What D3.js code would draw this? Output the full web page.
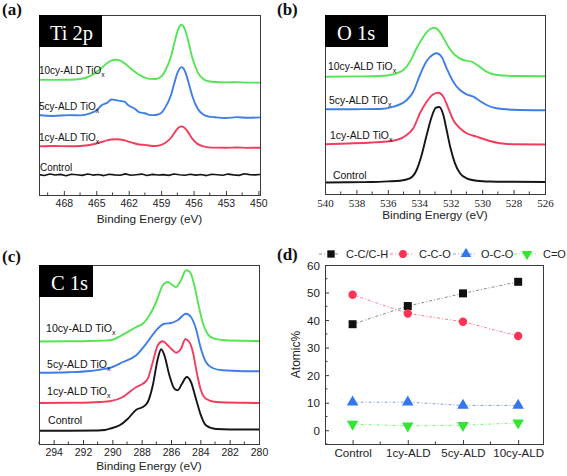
<!DOCTYPE html>
<html><head><meta charset="utf-8">
<script src="https://cdn.jsdelivr.net/npm/d3@7"></script>
<style>body{margin:0;background:#fff}svg{display:block}</style>
</head><body><svg id="c" width="567" height="476"></svg>
<script>
// ---------------- DATA ----------------
// (a) Ti 2p  – binding energy (eV) and intensity (a.u., offset per trace)
const tiE = [470.3,469,467.5,466.5,465.5,465,464.5,464,463.6,463.2,462.8,462.4,462,461.5,461,460.5,460,459.5,459,458.6,458.1,457.8,457.5,457.3,457.1,456.9,456.7,456.4,456.1,455.6,455.1,454.6,454,453,452,451,449.85];
const ti10 = [114.5,114.5,114.6,115.3,118.7,122.2,126.6,131,133.6,134.5,133.6,131,127.6,123,119.3,116.8,115.5,115.4,117.7,124.1,137.2,150.1,162.3,167.5,169.3,167,161.6,149.1,135.9,121.7,115.4,113.1,112.3,112,112.2,111.8,111.8];
const ti5  = [79.5,78.6,79.4,79.2,81.5,84,89.3,91.6,95,94.4,93.6,92.8,88.9,86.3,82.2,81.3,79.4,79.6,81.6,87.4,99,110.3,121.1,125.6,127.2,125.3,120.5,109.5,98,85.5,80,78,77.3,76.6,77.4,76.8,77.2];
const ti1  = [48.5,48.8,48.5,48.8,50,51.2,52.7,54.3,55.2,55.5,55.2,54.3,53.1,51.5,50.2,49.8,49,48.8,49.8,52,56.7,61.4,65.8,67.6,68.2,67.3,65.3,60.7,55.8,50.6,48.3,47.4,47.1,47,47.3,46.9,47];
const tiCtrlE = [470.3,469.8,469.3,468.8,468.3,467.8,467.3,466.8,466.3,465.8,465.3,464.8,464.3,463.8,463.3,462.8,462.3,461.8,461.3,460.8,460.3,459.8,459.3,458.8,458.3,457.8,457.3,456.8,456.3,455.8,455.3,454.8,454.3,453.8,453.3,452.8,452.3,451.8,451.3,450.8,450.3,449.85];
const tiCtrl  = [20.3,19.4,20.8,19.9,20.5,19.2,20.6,20.1,19.5,20.9,19.8,20.4,19.3,20.7,20.0,19.6,21.0,19.7,20.2,20.8,19.4,20.5,19.9,20.3,19.5,20.9,20.1,19.6,20.6,19.8,20.4,19.3,20.7,20.2,19.7,20.8,20.0,19.5,21.1,20.3,20.0,20.4];

// (b) O 1s
const oCtrlE = [540,538.5,537,536,535.23,534.6,534.17,533.85,533.53,533.21,532.94,532.73,532.47,532.26,532.01,531.73,531.41,530.99,530.35,529.5,528,526];
const oCtrl  = [11.5,11.8,12,12.6,13.3,15.7,24,39,59,77.3,86.3,87,79,64,45.7,30.7,20.7,15.7,13.3,12.5,12.2,12];
const o1E = [540,538.5,537,536.5,535.44,534.8,534.38,533.96,533.53,533.11,532.79,532.47,532.15,531.84,531.41,530.99,530.35,529.72,528.87,528.02,526];
const o1  = [49.7,50.5,51.5,52,54,59,65.7,80.7,92.3,99.7,101.3,97.3,85.7,74,65.7,60.7,57.3,54,50.7,49.7,49.5];
const o5E = [540,538,536.5,535.65,534.8,534.38,533.96,533.53,533.11,532.9,532.58,532.26,531.84,531.41,530.99,530.56,530.14,529.72,529.08,528.02,526];
const o5  = [84.7,84.8,85,87.3,94,102.3,119,133,139.7,140.7,137.3,125.7,112.3,104,99.7,97.3,93,89,85.7,84.3,83.7];
const o10E = [540,538,536.5,535.65,535.01,534.59,534.17,533.74,533.32,533.04,532.79,532.47,532.15,531.73,531.2,530.67,530.25,529.72,529.08,528.02,526];
const o10  = [117.3,117.6,118,119.7,124,132.3,145.7,157.3,164.7,166.3,164,156.3,147.3,139,134,132.3,128.3,122.3,119,118,117.7];

// (c) C 1s
const cCtrlE = [295,293,291,290.5,290.18,289.5,288.94,288.37,287.92,287.58,287.24,286.9,286.67,286.45,286.11,285.77,285.55,285.25,284.93,284.64,284.3,283.96,283.62,282.94,281,280];
const cCtrl  = [13.3,13.3,13.5,14,15.3,18.7,25.3,34.3,37,42,58.7,85.3,94.7,88.7,68.7,55.3,53.7,60.3,67,62,45.3,28.7,18.7,15,14.5,14.5];
const c1E = [295,293,291.5,290.8,290.18,289.28,288.37,287.92,287.58,287.24,286.9,286.56,286.22,285.88,285.66,285.32,285.02,284.75,284.48,284.25,283.96,283.62,282.94,281,280];
const c1  = [41,41.2,41.5,42,42.7,47,57,60.3,65.3,82,98.7,102.7,98.7,93.7,91.3,95.3,104.7,102,90.3,72,53.7,45.3,42,41.2,41];
const c5E = [295,293,291.5,290.8,290.18,289.28,288.37,287.69,287.01,286.45,286,285.55,284.98,284.64,284.3,283.96,283.62,283.17,282.49,281,280];
const c5  = [71.3,71.8,73,74.5,76,82,88.7,100.3,113.7,120.3,121,123.7,130.3,127,115.3,95.3,82,76,73.7,72.8,72.7];
const c10E = [295,293,291.5,290.8,290.18,289.28,288.37,287.92,287.47,287.01,286.56,286.22,285.88,285.66,285.32,284.98,284.71,284.41,284.12,283.85,283.51,283.06,282.28,281,280];
const c10  = [102.5,102.7,103,103.3,103.7,109.3,117,120.3,128.7,142,158.7,162,158.7,157,163.7,173.7,172,158.7,138.7,122,110.3,105.3,103.7,103.2,103];

// (d) atomic %
const dCats = ["Control","1cy-ALD","5cy-ALD","10cy-ALD"];
const dCCCH = [38.5,45.1,49.7,53.9];
const dCCO  = [49.2,42.4,39.4,34.2];
const dOCO  = [10.2,10.2,9.0,9.0];
const dCO   = [2.2,1.6,1.8,2.7];
const dSeriesNames = ["C-C/C-H","C-C-O","O-C-O","C=O"];
const dYTicks = [0,10,20,30,40,50,60];

const traceNames = ["10cy-ALD TiO","5cy-ALD TiO","1cy-ALD TiO","Control"];

// ---------------- DRAW ----------------
const svg = d3.select("#c");
const SANS = "'Liberation Sans', Arial, sans-serif";
const SERIF = "'Liberation Serif', 'Times New Roman', serif";
const COL = {g:"#55e455", b:"#3f7ee6", r:"#f23c5c", k:"#151515"};

function specPanel(p){
  const g = svg.append("g");
  const x = d3.scaleLinear().domain(p.dom).range([p.L,p.R]);
  const y = d3.scaleLinear().domain([0,179]).range([p.B,p.T]);
  p.series.forEach(s=>{
    const pts = s.E.map((e,i)=>[e,s.V[i]]);
    const ln = d3.line().x(d=>x(d[0])).y(d=>y(d[1])).curve(s.linear?d3.curveLinear:d3.curveMonotoneX);
    g.append("path").attr("d",ln(pts)).attr("fill","none").attr("stroke",s.color)
      .attr("stroke-width",s.w||1.9).attr("stroke-linejoin","round");
  });
  g.append("rect").attr("x",p.L+0.5).attr("y",p.T+0.5).attr("width",p.R-p.L).attr("height",p.B-p.T)
    .attr("fill","none").attr("stroke","#3a3a3a").attr("stroke-width",1);
  // ticks
  const ax = g.append("g").attr("transform",`translate(0,${p.B})`)
    .call(d3.axisBottom(x).tickValues(p.major).tickSize(-4).tickFormat(d3.format("d")));
  ax.select(".domain").remove();
  ax.selectAll(".tick line").attr("stroke","#3a3a3a");
  ax.selectAll("text").attr("y",p.tickY).attr("dy",null).attr("font-family",p.tickFont)
    .attr("font-size",p.tickFs).attr("fill","#222");
  g.selectAll(".minor").data(p.minor).join("line").attr("class","minor")
    .attr("x1",d=>x(d)).attr("x2",d=>x(d)).attr("y1",p.B).attr("y2",p.B-2.5).attr("stroke","#3a3a3a");
  g.append("text").attr("x",(p.L+p.R)/2).attr("y",p.titleY).attr("text-anchor","middle")
    .attr("font-family",SANS).attr("font-size",p.titleFs).attr("fill","#222").text("Binding Energy (eV)");
  // element box
  g.append("rect").attr("x",p.L).attr("y",p.T).attr("width",p.boxW).attr("height",32).attr("fill","#000");
  g.append("text").attr("x",p.L+p.boxTx).attr("y",p.T+25).attr("font-family",SERIF).attr("font-size",20.5)
    .attr("fill","#fff").text(p.boxText);
  // trace labels
  p.labels.forEach((lb,i)=>{
    const t = g.append("text").attr("x",lb[0]).attr("y",lb[1]).attr("font-family",SANS)
      .attr("font-size",p.labFs).attr("fill","#111").text(traceNames[i]);
    if(i<3) t.append("tspan").attr("font-size",p.labFs*0.68).attr("dy",3).text("x");
  });
  // panel letter
  svg.append("text").attr("x",p.letX).attr("y",p.letY).attr("font-family",SERIF).attr("font-weight","bold")
    .attr("font-size",17).attr("fill","#111").text(p.letter);
}

specPanel({L:39,R:260,T:15,B:195,dom:[470.3,449.85],
  series:[{E:tiCtrlE,V:tiCtrl,color:COL.k,linear:true,w:1.6},{E:tiE,V:ti1,color:COL.r},{E:tiE,V:ti5,color:COL.b},{E:tiE,V:ti10,color:COL.g}],
  major:[468,465,462,459,456,453,450],minor:[469.5,466.5,463.5,460.5,457.5,454.5,451.5],
  tickY:11.5,tickFont:SANS,tickFs:10.5,titleY:222.5,titleFs:11.8,
  boxW:63,boxTx:11,boxText:"Ti 2p",
  labels:[[39,73.5],[39,109.5],[39,140.5],[40,171]],labFs:10,
  letter:"(a)",letX:2,letY:15});

specPanel({L:325,R:545,T:15,B:194,dom:[540,526],
  series:[{E:oCtrlE,V:oCtrl,color:COL.k},{E:o1E,V:o1,color:COL.r},{E:o5E,V:o5,color:COL.b},{E:o10E,V:o10,color:COL.g}],
  major:[540,538,536,534,532,530,528,526],minor:[539,537,535,533,531,529,527],
  tickY:13,tickFont:SERIF,tickFs:11,titleY:218.5,titleFs:11.8,
  boxW:63,boxTx:12,boxText:"O 1s",
  labels:[[328,70],[329,104],[330,138.5],[333,178.5]],labFs:10.4,
  letter:"(b)",letX:277,letY:15});

specPanel({L:39,R:259,T:265,B:444,dom:[295,280],
  series:[{E:cCtrlE,V:cCtrl,color:COL.k},{E:c1E,V:c1,color:COL.r},{E:c5E,V:c5,color:COL.b},{E:c10E,V:c10,color:COL.g}],
  major:[294,292,290,288,286,284,282,280],minor:[295,293,291,289,287,285,283,281],
  tickY:11.5,tickFont:SANS,tickFs:10.5,titleY:469.5,titleFs:11.8,
  boxW:54,boxTx:12,boxText:"C 1s",
  labels:[[46,332],[47,368],[47,395],[48,424]],labFs:10.6,
  letter:"(c)",letX:2,letY:262});

// ---- panel (d)
(function(){
  const L=325,R=543,T=265,B=444;
  const g = svg.append("g");
  const x = d3.scaleLinear().domain([-0.5,3.45]).range([L,R]);
  const y = d3.scaleLinear().domain([-5,60]).range([B,T]);
  const sers = [
    {v:dCCCH, c:"#111", lc:"#8a8a8a", sym:d3.symbolSquare, size:64, rot:0},
    {v:dCCO,  c:"#ff3355", lc:"#ff7d92", sym:d3.symbolCircle, size:56, rot:0},
    {v:dOCO,  c:"#3377ee", lc:"#7aa6f0", sym:d3.symbolTriangle, size:58, rot:0},
    {v:dCO,   c:"#33e633", lc:"#7ef07e", sym:d3.symbolTriangle, size:58, rot:180}
  ];
  g.append("rect").attr("x",L+0.5).attr("y",T+0.5).attr("width",R-L).attr("height",B-T)
    .attr("fill","none").attr("stroke","#3a3a3a");
  // axes ticks
  const ax = g.append("g").attr("transform",`translate(0,${B})`)
    .call(d3.axisBottom(x).tickValues([0,1,2,3]).tickSize(-4).tickFormat(i=>dCats[i]));
  ax.select(".domain").remove();
  ax.selectAll(".tick line").attr("stroke","#3a3a3a");
  ax.selectAll("text").attr("y",13).attr("dy",null).attr("font-family",SANS).attr("font-size",11.6).attr("fill","#222");
  g.selectAll(".mx").data([0.5,1.5,2.5]).join("line").attr("x1",d=>x(d)).attr("x2",d=>x(d))
    .attr("y1",B).attr("y2",B-2.5).attr("stroke","#3a3a3a");
  const ay = g.append("g").attr("transform",`translate(${L},0)`)
    .call(d3.axisLeft(y).tickValues(dYTicks).tickSize(-4).tickFormat(d3.format("d")));
  ay.select(".domain").remove();
  ay.selectAll(".tick line").attr("stroke","#3a3a3a");
  ay.selectAll("text").attr("x",-5).attr("dy","0.36em").attr("font-family",SANS).attr("font-size",11.6).attr("fill","#222");
  g.selectAll(".my").data([-5,5,15,25,35,45,55]).join("line").attr("x1",L).attr("x2",L+2.5)
    .attr("y1",d=>y(d)).attr("y2",d=>y(d)).attr("stroke","#3a3a3a");
  g.append("text").attr("transform",`translate(${L-25},${(T+B)/2}) rotate(-90)`).attr("text-anchor","middle")
    .attr("font-family",SANS).attr("font-size",12).attr("fill","#222").text("Atomic%");
  // series
  sers.forEach(s=>{
    g.append("path").attr("d",d3.line().x((d,i)=>x(i)).y(d=>y(d))(s.v)).attr("fill","none")
      .attr("stroke",s.lc).attr("stroke-width",1).attr("stroke-dasharray","3,2,1,2");
    g.selectAll(null).data(s.v).join("path").attr("d",d3.symbol(s.sym,s.size))
      .attr("transform",(d,i)=>`translate(${x(i)},${y(d)}) rotate(${s.rot})`).attr("fill",s.c);
  });
  // legend
  const leg = [[319,331,346],[390,403,419],[453,466,481],[506,527,543]];
  sers.forEach((s,i)=>{
    const [lx,mx,tx] = leg[i];
    g.append("line").attr("x1",lx).attr("x2",tx-6).attr("y1",254).attr("y2",254)
      .attr("stroke",s.lc).attr("stroke-dasharray","3,2,1,2");
    g.append("path").attr("d",d3.symbol(s.sym,s.size*0.85)).attr("transform",`translate(${mx},254) rotate(${s.rot})`).attr("fill",s.c);
    g.append("text").attr("x",tx).attr("y",258).attr("font-family",SANS).attr("font-size",11)
      .attr("fill","#222").text(dSeriesNames[i]);
  });
  svg.append("text").attr("x",277).attr("y",260).attr("font-family",SERIF).attr("font-weight","bold")
    .attr("font-size",17).attr("fill","#111").text("(d)");
})();
</script></body></html>
